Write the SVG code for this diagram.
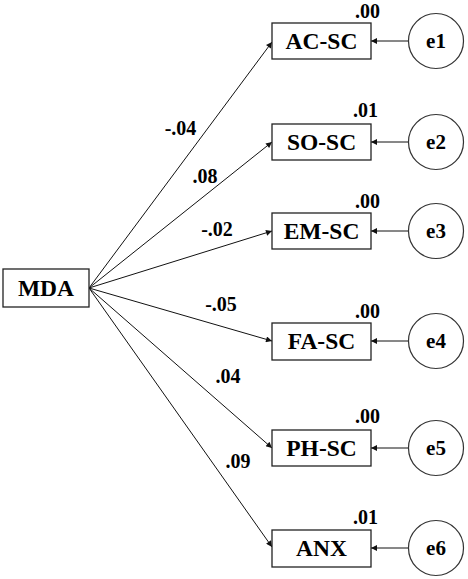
<svg xmlns="http://www.w3.org/2000/svg" width="468" height="579" viewBox="0 0 468 579">
<style>
.box{fill:#fff;stroke:#222;stroke-width:1.3}
.circ{fill:#fff;stroke:#333;stroke-width:1.2}
.t{font-family:"Liberation Serif",serif;font-weight:bold;font-size:23.5px;text-anchor:middle;fill:#000}
.e{font-family:"Liberation Serif",serif;font-weight:bold;font-size:21px;text-anchor:middle;fill:#000}
.l{font-family:"Liberation Serif",serif;font-weight:bold;font-size:20px;fill:#000}
.c line{stroke:#111;stroke-width:1;marker-end:url(#ah)}
</style>
<defs>
<marker id="ah" viewBox="0 0 10 10" refX="10" refY="5" markerWidth="8" markerHeight="6" markerUnits="userSpaceOnUse" orient="auto">
<path d="M0,0 L10,5 L0,10 z" fill="#111"/>
</marker>
</defs>
<rect width="468" height="579" fill="#fff"/>
<g class="c" id="connectors">
<line x1="89" y1="288" x2="272" y2="42"/>
<line x1="89" y1="288" x2="272" y2="142"/>
<line x1="89" y1="288" x2="272" y2="231"/>
<line x1="89" y1="288" x2="272" y2="341"/>
<line x1="89" y1="288" x2="272" y2="448"/>
<line x1="89" y1="288" x2="272" y2="547"/>
<line x1="408" y1="41" x2="371" y2="41"/>
<line x1="408" y1="142" x2="371" y2="142"/>
<line x1="408" y1="231" x2="371" y2="231"/>
<line x1="408" y1="341" x2="371" y2="341"/>
<line x1="408" y1="448" x2="371" y2="448"/>
<line x1="408" y1="548" x2="371" y2="548"/>
</g>
<g id="labels" class="l">
<text x="180.5" y="135" text-anchor="middle">-.04</text>
<text x="205" y="183" text-anchor="middle">.08</text>
<text x="217" y="236" text-anchor="middle">-.02</text>
<text x="221" y="311" text-anchor="middle">-.05</text>
<text x="228" y="383" text-anchor="middle">.04</text>
<text x="238" y="468" text-anchor="middle">.09</text>
</g>
<g id="MDA"><rect class="box" x="3" y="269" width="86" height="38"/><text class="t" x="46" y="296">MDA</text></g>
<g id="AC-SC"><rect class="box" x="272" y="23" width="99" height="36"/><text class="t" x="321.5" y="49">AC-SC</text><text class="l" x="380" y="18" text-anchor="end">.00</text></g>
<g id="SO-SC"><rect class="box" x="272" y="124" width="99" height="36"/><text class="t" x="321.5" y="150">SO-SC</text><text class="l" x="378" y="117" text-anchor="end">.01</text></g>
<g id="EM-SC"><rect class="box" x="272" y="213" width="99" height="36"/><text class="t" x="321.5" y="239">EM-SC</text><text class="l" x="380" y="208" text-anchor="end">.00</text></g>
<g id="FA-SC"><rect class="box" x="272" y="323" width="99" height="37"/><text class="t" x="321.5" y="349">FA-SC</text><text class="l" x="380" y="318" text-anchor="end">.00</text></g>
<g id="PH-SC"><rect class="box" x="272" y="430" width="99" height="36"/><text class="t" x="321.5" y="456">PH-SC</text><text class="l" x="380" y="423" text-anchor="end">.00</text></g>
<g id="ANX"><rect class="box" x="272" y="530" width="99" height="37"/><text class="t" x="321.5" y="556">ANX</text><text class="l" x="378" y="524" text-anchor="end">.01</text></g>
<g id="e1"><circle class="circ" cx="436" cy="41" r="27.5"/><text class="e" x="436" y="48">e1</text></g>
<g id="e2"><circle class="circ" cx="436" cy="142" r="27.5"/><text class="e" x="436" y="149">e2</text></g>
<g id="e3"><circle class="circ" cx="436" cy="231" r="27.5"/><text class="e" x="436" y="238">e3</text></g>
<g id="e4"><circle class="circ" cx="436" cy="341" r="27.5"/><text class="e" x="436" y="348">e4</text></g>
<g id="e5"><circle class="circ" cx="436" cy="448" r="27.5"/><text class="e" x="436" y="455">e5</text></g>
<g id="e6"><circle class="circ" cx="436" cy="548" r="27.5"/><text class="e" x="436" y="555">e6</text></g>
</svg>
